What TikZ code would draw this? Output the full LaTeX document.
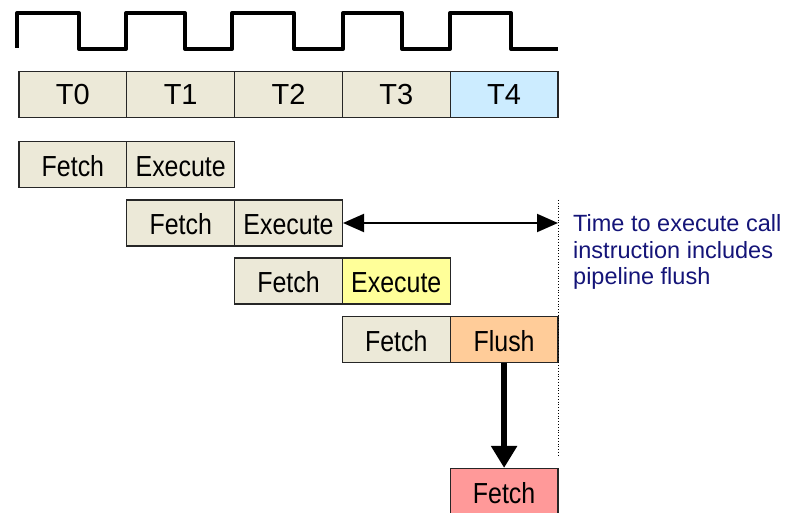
\documentclass[tikz,border=0pt]{standalone}
\usepackage{fontspec}
\setmainfont{Liberation Sans}
\newfontfamily\narrowfont[FakeStretch=0.86]{Liberation Sans}
\usetikzlibrary{arrows.meta}
\definecolor{cellbeige}{RGB}{236,233,216}
\definecolor{cellblue}{RGB}{204,236,255}
\definecolor{cellyellow}{RGB}{255,255,153}
\definecolor{cellorange}{RGB}{255,204,153}
\definecolor{cellred}{RGB}{255,153,153}
\definecolor{notenavy}{RGB}{20,20,120}
\tikzset{
  cell/.style={draw=black!85, line width=1.2pt, minimum width=107.8pt, minimum height=46pt,
               inner sep=0pt, text height=24pt, text depth=0pt,
               font=\narrowfont\fontsize{29}{32}\selectfont, fill=cellbeige},
  tcell/.style={cell, text height=21pt, font=\fontsize{29}{32}\selectfont},
  clockline/.style={line width=4pt, line join=round},
  bigarrow/.style={line width=5.5pt, -{Triangle[length=22pt,width=25pt]}},
  spanarrow/.style={line width=2pt, {Triangle[length=21pt,width=18pt]}-{Triangle[length=21pt,width=18pt]}},
}
\begin{document}
\begin{tikzpicture}[x=1pt,y=-1pt]
\useasboundingbox (0,0) rectangle (793,513);

% clock signal
\draw[clockline] (17,48) -- (17,13) -- (79,13) -- (79,49) -- (126,49) -- (126,13)
  -- (185,13) -- (185,49) -- (232,49) -- (232,13) -- (294,13) -- (294,49)
  -- (343,49) -- (343,13) -- (402,13) -- (402,49) -- (450,49) -- (450,13)
  -- (511,13) -- (511,49) -- (558,49);

% time slots
\node[tcell] (t0) at (72.9,94.5) {T0};
\node[tcell] (t1) at (180.7,94.5) {T1};
\node[tcell] (t2) at (288.5,94.5) {T2};
\node[tcell] (t3) at (396.3,94.5) {T3};
\node[tcell, fill=cellblue] (t4) at (504.1,94.5) {T4};

% pipeline stages
\node[cell] (f1) at (72.9,164.5) {Fetch};
\node[cell] (e1) at (180.7,164.5) {Execute};
\node[cell] (f2) at (180.7,223) {Fetch};
\node[cell] (e2) at (288.5,223) {Execute};
\node[cell] (f3) at (288.5,281) {Fetch};
\node[cell, fill=cellyellow] (e3) at (396.3,281) {Execute};
\node[cell] (f4) at (396.3,339.5) {Fetch};
\node[cell, fill=cellorange] (fl4) at (504.1,339.5) {Flush};
\node[cell, fill=cellred] (f5) at (504.1,491.5) {Fetch};

% dotted boundary and call duration
\coordinate (dtop) at (558,200);
\coordinate (dbot) at (558,457);
\coordinate (spanend) at (558,223);
\draw[dotted, line width=0.8pt] (dtop) -- (dbot);
\draw[spanarrow] (e2.east) -- (spanend);
\draw[bigarrow] (fl4.south) -- (f5.north);

% note (anchored at the baseline of its last line)
\node[anchor=base west, align=left, inner sep=0pt, text=notenavy,
      font=\fontsize{23.5}{27}\selectfont] (note) at (573,285)
  {Time to execute call\\instruction includes\\pipeline flush};
\end{tikzpicture}
\end{document}
